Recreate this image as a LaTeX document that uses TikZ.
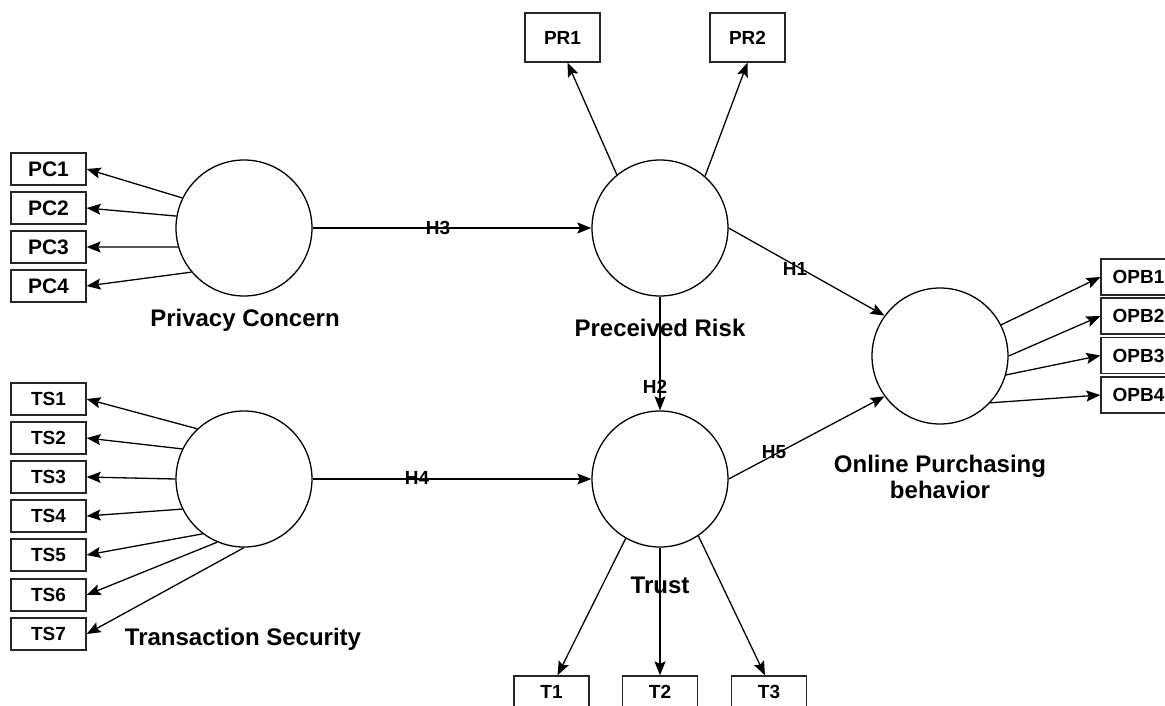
\documentclass[tikz,border=0pt]{standalone}
\usepackage{fontspec}
\setmainfont{Liberation Sans}
\usetikzlibrary{arrows.meta}
\begin{document}
\begin{tikzpicture}[x=1pt,y=-1pt,
  ind/.style={draw=black!85, line width=1.3pt, minimum width=75pt, minimum height=32pt, inner sep=0pt, font=\fontsize{19}{19}\selectfont\bfseries},
  lat/.style={draw, circle, line width=1.3pt, minimum size=136pt, inner sep=0pt},
  lbl/.style={font=\fontsize{24}{24}\selectfont\bfseries, anchor=base, inner sep=0pt},
  hyp/.style={font=\fontsize{19}{19}\selectfont\bfseries, inner sep=0pt},
  arr/.style={-{Stealth[length=14pt,width=11pt,inset=2.5pt]}, line width=1.3pt}
]
\fill[white] (0,0) rectangle (1165,705);
\useasboundingbox (0,0) rectangle (1165,705);
\begin{scope}
\clip (0,0) rectangle (1165,705);
% latent variables
\node[lat] (pc) at (244,228) {};
\node[lat] (ts) at (244,479) {};
\node[lat] (pr) at (660,228) {};
\node[lat] (tr) at (660,479) {};
\node[lat] (opb) at (940,356) {};
% indicators
\node[ind, font=\fontsize{21}{21}\selectfont\bfseries] (pc1) at (48.5,169) {PC1};
\node[ind, font=\fontsize{21}{21}\selectfont\bfseries] (pc2) at (48.5,208) {PC2};
\node[ind, font=\fontsize{21}{21}\selectfont\bfseries] (pc3) at (48.5,247) {PC3};
\node[ind, font=\fontsize{21}{21}\selectfont\bfseries] (pc4) at (48.5,286) {PC4};
\node[ind] (ts1) at (48.5,399) {TS1};
\node[ind] (ts2) at (48.5,438) {TS2};
\node[ind] (ts3) at (48.5,477) {TS3};
\node[ind] (ts4) at (48.5,516) {TS4};
\node[ind] (ts5) at (48.5,555) {TS5};
\node[ind] (ts6) at (48.5,595) {TS6};
\node[ind] (ts7) at (48.5,634) {TS7};
\node[ind, minimum height=49pt] (pr1) at (562.5,37.5) {PR1};
\node[ind, minimum height=49pt] (pr2) at (747.5,37.5) {PR2};
\node[ind] (t1) at (551.5,692) {T1};
\node[ind] (t2) at (660,692) {T2};
\node[ind] (t3) at (769,692) {T3};
\node[ind, minimum height=36pt] (opb1) at (1138.5,277) {OPB1};
\node[ind, minimum height=36pt] (opb2) at (1138.5,316) {OPB2};
\node[ind, minimum height=36pt] (opb3) at (1138.5,355.5) {OPB3};
\node[ind, minimum height=36pt] (opb4) at (1138.5,395) {OPB4};
% outer loadings
\draw[arr] (pc.154) -- (pc1.east);
\draw[arr] (pc.170) -- (pc2.east);
\draw[arr] (pc.196) -- (pc3.east);
\draw[arr] (pc.220) -- (pc4.east);
\draw[arr] (ts.133) -- (ts1.east);
\draw[arr] (ts.154) -- (ts2.east);
\draw[arr] (ts.180) -- (ts3.east);
\draw[arr] (ts.206) -- (ts4.east);
\draw[arr] (ts.233) -- (ts5.east);
\draw[arr] (ts.247) -- (ts6.east);
\draw[arr] (ts.270) -- (ts7.east);
\draw[arr] (pr.129) -- ([xshift=5pt]pr1.south);
\draw[arr] (pr.49) -- (pr2.south);
\draw[arr] (tr.240) -- ([xshift=6pt]t1.north);
\draw[arr] (tr.south) -- (t2.north);
\draw[arr] (tr.304) -- ([xshift=-4pt]t3.north);
\draw[arr] (opb.27) -- (opb1.west);
\draw[arr] (opb.0) -- (opb2.west);
\draw[arr] (opb.344) -- (opb3.west);
\draw[arr] (opb.317) -- (opb4.west);
% structural paths
\draw[arr] (pc.east) -- (pr.west);
\draw[arr] (ts.east) -- (tr.west);
\draw[arr] (pr.0) -- (opb.144);
\draw[arr] (pr.south) -- (tr.north);
\draw[arr] (tr.0) -- (opb.216);
% hypothesis labels
\node[hyp] (h3) at (438,228) {H3};
\node[hyp] (h4) at (417,478) {H4};
\node[hyp] (h1) at (795,269) {H1};
\node[hyp] (h2) at (655,387) {H2};
\node[hyp] (h5) at (774,452) {H5};
% construct labels
\node[lbl] (lpc) at (245,326) {Privacy Concern};
\node[lbl] (lpr) at (660,336) {Preceived Risk};
\node[lbl] (ltr) at (660,593) {Trust};
\node[lbl] (lts) at (243,645) {Transaction Security};
\node[lbl] (lopb1) at (940,472) {Online Purchasing};
\node[lbl] (lopb2) at (940,498) {behavior};
\end{scope}
\end{tikzpicture}
\end{document}
